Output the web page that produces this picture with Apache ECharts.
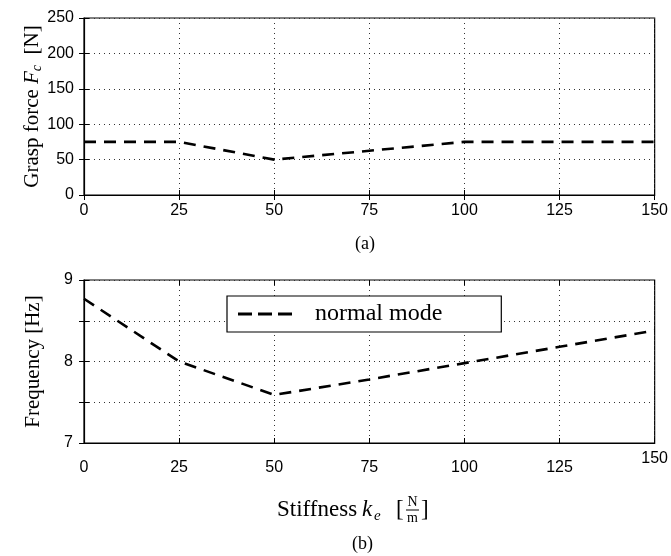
<!DOCTYPE html>
<html><head><meta charset="utf-8">
<script src="https://cdn.jsdelivr.net/npm/echarts@6/dist/echarts.min.js"></script>
<style>html,body{margin:0;padding:0;background:#fff}#c{width:671px;height:556px}</style>
</head><body><div id="c"></div>
<script>
// ---- data ----
const stiffness = [0, 25, 50, 75, 100, 125, 150];
const graspForce = [75, 75, 50, 62.5, 75, 75, 75];
const frequency = [8.77, 8.0, 7.59, 7.78, 7.98, 8.18, 8.38];
const seriesName = 'normal mode';
const xRange = [0, 150, 25];
const forceRange = [0, 250, 50];
const freqRange = [7, 9, 0.5];

const SERIF = '"Liberation Serif", "Times New Roman", serif';
const SANS = '"Liberation Sans", Arial, sans-serif';
const TICK_FS = 16;
const dotted = { color: '#333', width: 1, type: [1, 4] };
const tickIn = { show: true, inside: true, length: 5, lineStyle: { color: '#000', width: 1 } };
const dash = { color: '#000', width: 2.6, type: [12, 8] };

function pairs(xs, ys) { return xs.map((x, i) => [x, ys[i]]); }

function mainX(grid, extra) {
  return Object.assign({
    type: 'value', gridIndex: grid, min: xRange[0], max: xRange[1], interval: xRange[2],
    axisLine: { show: true, lineStyle: { color: '#000', width: 1.2 } },
    axisTick: tickIn,
    splitLine: { show: true, lineStyle: dotted },
    axisLabel: { color: '#000', fontFamily: SANS, fontSize: TICK_FS, margin: 8 }
  }, extra || {});
}
function mirrorX(grid) {
  return { type: 'value', gridIndex: grid, position: 'top', min: xRange[0], max: xRange[1], interval: xRange[2],
    axisLine: { show: false }, axisTick: tickIn, axisLabel: { show: false }, splitLine: { show: false } };
}
function mirrorY(grid, r) {
  return { type: 'value', gridIndex: grid, position: 'right', min: r[0], max: r[1], interval: r[2],
    axisLine: { show: false }, axisTick: tickIn, axisLabel: { show: false }, splitLine: { show: false } };
}

const chart = echarts.init(document.getElementById('c'), null, { renderer: 'canvas' });
chart.setOption({
  animation: false,
  backgroundColor: '#fff',
  grid: [
    { left: 84, top: 18, width: 571, height: 177, show: true, borderColor: '#000', borderWidth: 1.2, backgroundColor: 'transparent' },
    { left: 84, top: 280, width: 571, height: 163, show: true, borderColor: '#000', borderWidth: 1.2, backgroundColor: 'transparent' }
  ],
  legend: {
    data: [{ name: seriesName, icon: 'path://M0,0h14v3h-14z M20,0h14v3h-14z M40,0h14v3h-14z' }],
    left: 227, top: 296,
    backgroundColor: '#fff',
    borderColor: '#000', borderWidth: 1.2,
    padding: [6, 59, 6, 11],
    itemWidth: 54, itemHeight: 3,
    itemStyle: { color: '#000', borderWidth: 0 },
    textStyle: { fontFamily: SERIF, fontSize: 24, color: '#000', padding: [0, 0, 0, 18] }
  },
  xAxis: [
    mainX(0),
    mainX(1, { axisLabel: { color: '#000', fontFamily: SANS, fontSize: TICK_FS, margin: 8,
      formatter: v => v === 150 ? '{u|150}' : '{n|' + v + '}',
      rich: { u: { fontFamily: SANS, fontSize: TICK_FS }, n: { fontFamily: SANS, fontSize: TICK_FS, padding: [9, 0, 0, 0] } } } }),
    mirrorX(0), mirrorX(1)
  ],
  yAxis: [
    { type: 'value', gridIndex: 0, min: forceRange[0], max: forceRange[1], interval: forceRange[2],
      axisLine: { show: true, lineStyle: { color: '#000', width: 1.2 } },
      axisTick: tickIn, splitLine: { show: true, lineStyle: dotted },
      axisLabel: { color: '#000', fontFamily: SANS, fontSize: TICK_FS, margin: 10 },
      name: '{t|Grasp force }{i|F}{s|c}{t|  [N]}', nameLocation: 'middle', nameGap: 40, nameRotate: 90,
      nameMoveOverlap: false,
      nameTextStyle: { color: '#000', rich: {
        t: { fontFamily: SERIF, fontSize: 21, lineHeight: 24 },
        i: { fontFamily: SERIF, fontSize: 21, fontStyle: 'italic', lineHeight: 24 },
        s: { fontFamily: SERIF, fontSize: 14, fontStyle: 'italic', lineHeight: 14, verticalAlign: 'bottom' } } } },
    { type: 'value', gridIndex: 1, min: freqRange[0], max: freqRange[1], interval: freqRange[2],
      axisLine: { show: true, lineStyle: { color: '#000', width: 1.2 } },
      axisTick: tickIn, splitLine: { show: true, lineStyle: dotted },
      axisLabel: { color: '#000', fontFamily: SANS, fontSize: TICK_FS, margin: 11, formatter: v => (v % 1 === 0 ? String(v) : '') },
      name: 'Frequency [Hz]', nameLocation: 'middle', nameGap: 40, nameRotate: 90,
      nameMoveOverlap: false,
      nameTextStyle: { color: '#000', fontFamily: SERIF, fontSize: 21 } },
    mirrorY(0, forceRange), mirrorY(1, freqRange)
  ],
  series: [
    { name: 'force', type: 'line', xAxisIndex: 0, yAxisIndex: 0, data: pairs(stiffness, graspForce),
      symbol: 'none', lineStyle: dash, itemStyle: { color: '#000' } },
    { name: seriesName, type: 'line', xAxisIndex: 1, yAxisIndex: 1, data: pairs(stiffness, frequency),
      symbol: 'none', lineStyle: dash, itemStyle: { color: '#000' } }
  ],
  graphic: [
    { type: 'text', left: 355, top: 235, style: { text: '(a)', font: '18px ' + SERIF, fill: '#000' } },
    { type: 'text', left: 352, top: 535, style: { text: '(b)', font: '18px ' + SERIF, fill: '#000' } },
    { type: 'text', x: 277, y: 510, style: { text: 'Stiffness', font: '23px ' + SERIF, fill: '#000', verticalAlign: 'middle' } },
    { type: 'text', x: 362, y: 510, style: { text: 'k', font: 'italic 23px ' + SERIF, fill: '#000', verticalAlign: 'middle' } },
    { type: 'text', x: 374, y: 516, style: { text: 'e', font: 'italic 15px ' + SERIF, fill: '#000', verticalAlign: 'middle' } },
    { type: 'text', x: 396, y: 510, style: { text: '[', font: '23px ' + SERIF, fill: '#000', verticalAlign: 'middle' } },
    { type: 'text', x: 412.5, y: 502, style: { text: 'N', font: '14px ' + SERIF, fill: '#000', align: 'center', verticalAlign: 'middle' } },
    { type: 'line', shape: { x1: 406, y1: 510, x2: 419, y2: 510 }, style: { stroke: '#000', lineWidth: 1 } },
    { type: 'text', x: 412.5, y: 518, style: { text: 'm', font: '14px ' + SERIF, fill: '#000', align: 'center', verticalAlign: 'middle' } },
    { type: 'text', x: 421, y: 510, style: { text: ']', font: '23px ' + SERIF, fill: '#000', verticalAlign: 'middle' } }
  ]
});
</script></body></html>
